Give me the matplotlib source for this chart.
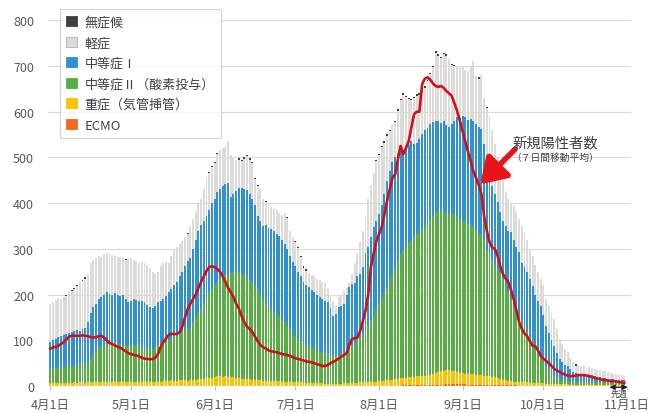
import numpy as np
import matplotlib
matplotlib.use('Agg')
import matplotlib.pyplot as plt
from matplotlib.patches import Patch

plt.rcParams['font.family'] = ['Noto Sans CJK JP', 'DejaVu Sans']

# ---- data (daily, 4/1 .. 10/31) ----
tick_days = [0, 30, 61, 91, 122, 153, 183, 214]
tick_labels = ['4月1日', '5月1日', '6月1日', '7月1日', '8月1日', '9月1日', '10月1日', '11月1日']
y_ticks = [0, 100, 200, 300, 400, 500, 600, 700, 800]

series_names = ['無症候', '軽症', '中等症Ⅰ', '中等症Ⅱ（酸素投与）', '重症（気管挿管）', 'ECMO']

# top of whole bar (all categories)
total_top = [
    180, 183, 188, 192, 190, 195, 200, 205, 210, 215,
    222, 228, 232, 238, 245, 268, 275, 280, 285, 283,
    288, 292, 290, 287, 284, 282, 283, 280, 278, 281,
    280, 276, 273, 270, 272, 268, 265, 258, 250, 245,
    250, 262, 270, 272, 268, 285, 300, 305, 310, 318,
    325, 335, 350, 365, 380, 398, 410, 430, 455, 468,
    482, 490, 510, 515, 520, 522, 536, 505, 500, 495,
    498, 494, 500, 505, 498, 490, 455, 440, 430, 410,
    405, 400, 392, 388, 385, 378, 375, 378, 370, 340,
    325, 318, 305, 285, 262, 255, 248, 242, 240, 235,
    232, 228, 225, 215, 200, 185, 175, 195, 200, 208,
    215, 225, 245, 270, 290, 315, 340, 370, 410, 440,
    465, 495, 508, 525, 535, 550, 560, 570, 580, 605,
    628, 640, 635, 630, 628, 632, 638, 640, 645, 655,
    670, 685, 700, 732, 725, 720, 728, 725, 715, 705,
    702, 700, 698, 697, 692, 688, 700, 710, 678, 675,
    680, 630, 610, 590, 560, 530, 500, 475, 450, 425,
    408, 400, 394, 380, 365, 350, 335, 320, 300, 285,
    265, 250, 235, 220, 190, 175, 160, 146, 125, 103,
    92, 82, 74, 62, 52, 48, 46, 44, 43, 42,
    42, 40, 38, 36, 35, 33, 32, 30, 28, 27,
    26, 25, 24, 22]

# top of 中等症Ⅰ (cumulative from bottom)
mod1_top = [
    96, 100, 104, 108, 110, 112, 114, 116, 118, 120,
    122, 120, 124, 128, 140, 160, 172, 180, 190, 195,
    200, 205, 202, 200, 203, 199, 198, 200, 190, 183,
    185, 190, 188, 186, 185, 183, 178, 172, 170, 175,
    183, 186, 190, 197, 205, 212, 220, 228, 240, 250,
    262, 273, 280, 300, 320, 340, 352, 360, 372, 385,
    400, 410, 425, 430, 438, 441, 445, 413, 420, 427,
    432, 434, 430, 428, 420, 408, 395, 372, 360, 350,
    352, 345, 343, 340, 332, 328, 320, 310, 300, 285,
    271, 262, 250, 240, 228, 220, 216, 210, 205, 200,
    195, 190, 185, 183, 170, 153, 157, 172, 175, 180,
    200, 216, 223, 225, 240, 245, 260, 290, 304, 325,
    347, 360, 376, 395, 420, 448, 470, 490, 500, 510,
    514, 516, 522, 528, 535, 530, 532, 540, 551, 560,
    565, 573, 578, 580, 579, 575, 579, 570, 566, 572,
    580, 588, 586, 590, 588, 582, 584, 579, 574, 566,
    562, 530, 496, 470, 437, 420, 402, 380, 360, 350,
    340, 337, 320, 305, 293, 270, 260, 249, 235, 219,
    200, 185, 175, 155, 131, 115, 100, 87, 72, 59,
    52, 47, 44, 38, 31, 29, 27, 26, 25, 25,
    24, 24, 22, 20, 19, 18, 17, 16, 15, 15,
    14, 14, 13, 13]

# top of 中等症Ⅱ (cumulative)
mod2_top = [
    37, 38, 40, 41, 42, 42, 43, 44, 44, 45,
    45, 46, 47, 48, 50, 60, 70, 78, 84, 88,
    90, 92, 94, 95, 96, 93, 90, 88, 87, 87,
    88, 89, 90, 88, 86, 84, 82, 81, 82, 85,
    90, 94, 96, 98, 100, 103, 107, 110, 114, 118,
    122, 125, 130, 140, 150, 160, 168, 180, 195, 205,
    212, 220, 228, 235, 240, 242, 246, 248, 250, 251,
    249, 247, 243, 238, 232, 227, 220, 210, 200, 190,
    180, 172, 168, 163, 158, 154, 146, 140, 132, 125,
    118, 109, 104, 98, 94, 90, 87, 84, 80, 78,
    76, 74, 72, 70, 68, 67, 68, 68, 70, 72,
    76, 82, 88, 95, 100, 106, 112, 122, 132, 145,
    157, 168, 180, 195, 205, 216, 230, 245, 258, 272,
    288, 298, 305, 312, 320, 326, 332, 338, 342, 347,
    355, 365, 372, 380, 383, 384, 383, 378, 376, 378,
    376, 370, 365, 361, 360, 354, 352, 347, 342, 335,
    330, 321, 300, 290, 278, 265, 255, 249, 235, 220,
    205, 190, 175, 162, 150, 140, 131, 120, 109, 100,
    87, 75, 65, 59, 45, 37, 30, 22, 18, 15,
    14, 13, 12, 12, 11, 11, 10, 10, 10, 10,
    9, 9, 9, 8, 8, 8, 8, 7, 7, 7,
    7, 6, 6, 6]

# top of 重症 (cumulative, incl. ECMO)
severe_top = [
    6, 6, 7, 6, 7, 7, 6, 7, 7, 8,
    7, 8, 8, 7, 8, 8, 9, 8, 9, 9,
    8, 9, 9, 10, 9, 9, 8, 9, 9, 10,
    9, 10, 10, 9, 9, 11, 10, 10, 9, 10,
    10, 9, 11, 12, 11, 13, 12, 12, 13, 14,
    13, 12, 13, 14, 14, 15, 15, 16, 17, 18,
    18, 20, 21, 22, 20, 21, 20, 19, 20, 18,
    17, 16, 16, 15, 15, 14, 14, 13, 13, 12,
    12, 12, 11, 12, 11, 11, 10, 10, 10, 9,
    9, 8, 8, 8, 7, 7, 7, 6, 6, 6,
    6, 6, 5, 5, 5, 5, 5, 5, 5, 6,
    6, 6, 6, 7, 7, 8, 8, 8, 9, 9,
    10, 10, 11, 11, 12, 13, 13, 14, 15, 16,
    17, 17, 18, 19, 20, 20, 21, 22, 22, 23,
    24, 25, 26, 28, 30, 32, 34, 36, 35, 34,
    32, 30, 29, 28, 27, 27, 26, 26, 25, 25,
    24, 23, 22, 21, 20, 19, 18, 16, 14, 13,
    12, 11, 10, 10, 9, 9, 8, 8, 7, 7,
    7, 6, 6, 6, 5, 5, 5, 5, 5, 4,
    4, 4, 4, 3, 3, 3, 3, 3, 3, 3,
    3, 3, 2, 2, 2, 2, 2, 2, 2, 2,
    2, 2, 2, 2]

ecmo = [
    0, 0, 0, 0, 0, 0, 0, 0, 0, 0,
    0, 0, 0, 0, 0, 0, 0, 0, 0, 0,
    0, 0, 0, 0, 0, 0, 0, 0, 0, 0,
    0, 0, 0, 0, 0, 0, 0, 0, 0, 0,
    0, 0, 0, 0, 0, 0, 0, 0, 0, 0,
    0, 0, 0, 0, 0, 0, 1, 1, 1, 1,
    1, 1, 1, 1, 1, 1, 1, 1, 1, 1,
    1, 1, 1, 1, 1, 1, 1, 1, 0, 0,
    0, 0, 0, 0, 0, 0, 0, 0, 0, 0,
    0, 0, 0, 0, 0, 0, 0, 0, 0, 0,
    0, 0, 0, 0, 0, 0, 0, 0, 0, 0,
    0, 0, 0, 0, 0, 0, 0, 0, 0, 0,
    0, 0, 0, 1, 1, 1, 1, 1, 1, 1,
    1, 2, 2, 2, 2, 2, 2, 2, 2, 2,
    2, 3, 3, 3, 3, 3, 3, 4, 4, 4,
    4, 4, 4, 4, 4, 3, 3, 3, 3, 3,
    3, 3, 3, 3, 3, 2, 2, 2, 2, 2,
    2, 2, 2, 2, 1, 1, 1, 1, 1, 1,
    1, 1, 1, 1, 1, 1, 1, 1, 1, 1,
    1, 1, 1, 1, 1, 1, 1, 1, 1, 1,
    0, 0, 0, 0, 0, 0, 0, 0, 0, 0,
    0, 0, 0, 0]

asymptomatic = [
    0, 0, 0, 0, 0, 0, 3, 0, 3, 3,
    3, 0, 3, 3, 0, 0, 0, 0, 0, 0,
    0, 0, 0, 0, 0, 0, 0, 0, 3, 0,
    0, 0, 0, 0, 0, 0, 0, 0, 0, 0,
    0, 0, 0, 0, 0, 0, 0, 0, 0, 0,
    0, 3, 0, 0, 0, 0, 0, 0, 0, 3,
    3, 3, 3, 0, 0, 0, 0, 0, 0, 0,
    3, 3, 3, 3, 3, 3, 3, 3, 0, 0,
    3, 0, 0, 0, 0, 0, 0, 0, 3, 0,
    0, 3, 3, 3, 3, 3, 0, 0, 0, 0,
    0, 0, 0, 0, 0, 0, 0, 0, 0, 0,
    0, 0, 0, 0, 0, 0, 0, 0, 0, 0,
    0, 3, 3, 3, 3, 3, 3, 0, 3, 3,
    3, 3, 3, 3, 3, 3, 3, 3, 3, 3,
    3, 3, 3, 3, 3, 3, 3, 3, 0, 3,
    3, 0, 0, 0, 0, 0, 0, 0, 0, 3,
    0, 0, 3, 0, 0, 0, 0, 0, 0, 0,
    0, 0, 0, 0, 0, 0, 0, 0, 0, 0,
    0, 0, 0, 0, 0, 0, 0, 0, 0, 0,
    0, 0, 0, 0, 0, 3, 0, 0, 0, 0,
    0, 0, 0, 0, 0, 0, 0, 0, 0, 0,
    0, 0, 0, 0]

# 新規陽性者数（7日間移動平均）
new_cases_7day = [
    82, 84, 86, 88, 92, 96, 102, 108, 110, 110,
    110, 110, 111, 110, 109, 107, 106, 107, 109, 110,
    106, 100, 94, 92, 89, 86, 84, 80, 76, 72,
    70, 68, 67, 65, 62, 60, 59, 59, 59, 62,
    70, 85, 96, 104, 112, 114, 114, 114, 118, 130,
    150, 168, 180, 190, 200, 215, 228, 240, 252, 260,
    262, 260, 256, 250, 240, 228, 215, 205, 195, 180,
    170, 153, 140, 130, 125, 118, 108, 98, 90, 85,
    82, 78, 76, 75, 74, 72, 70, 69, 68, 66,
    63, 61, 59, 58, 56, 54, 53, 52, 50, 48,
    46, 44, 44, 46, 50, 53, 56, 60, 64, 68,
    72, 90, 103, 105, 106, 120, 142, 165, 200, 260,
    290, 316, 332, 347, 375, 405, 430, 455, 463, 495,
    525, 507, 520, 535, 565, 594, 600, 600, 660, 672,
    675, 670, 662, 656, 654, 656, 652, 645, 640, 634,
    618, 601, 580, 558, 535, 513, 492, 470, 455, 440,
    420, 372, 340, 315, 303, 300, 285, 262, 245, 235,
    227, 210, 190, 165, 140, 125, 115, 109, 98, 88,
    87, 78, 66, 60, 55, 50, 44, 38, 34, 31,
    28, 25, 23, 22, 22, 23, 24, 24, 24, 23,
    22, 20, 18, 17, 15, 14, 13, 12, 11, 11,
    10, 9, 8, 7]

colors = ['#404040', '#dddbd7', '#3190cf', '#58ad45', '#ffc000', '#f26a1e']

# ---- derive stacked segments ----
T = np.array(total_top, float)
B = np.array(mod1_top, float)
G = np.array(mod2_top, float)
Y = np.array(severe_top, float)
E = np.array(ecmo, float)
A = np.array(asymptomatic, float)
n = len(T)
for arr in (B, G, Y, E, A, new_cases_7day):
    assert len(arr) == n, len(arr)
x = np.arange(n)

seg_ecmo = E
seg_severe = Y - E
seg_mod2 = G - Y
seg_mod1 = B - G
seg_mild = T - B - A
seg_asym = A

fig = plt.figure(figsize=(6.67, 4.14), dpi=100)
ax = fig.add_axes([0.072, 0.065, 0.874, 0.884])

w = 0.72
bottom = np.zeros(n)
stack = [(seg_ecmo, colors[5]), (seg_severe, colors[4]), (seg_mod2, colors[3]),
         (seg_mod1, colors[2]), (seg_mild, colors[1]), (seg_asym, colors[0])]
for vals, c in stack:
    ax.bar(x, vals, w, bottom=bottom, color=c, linewidth=0, zorder=2)
    bottom = bottom + vals

ax.plot(x, new_cases_7day, color='#d0101c', lw=1.9, zorder=4, solid_joinstyle='round')

ax.set_ylim(0, 800)
ax.set_xlim(-0.8, 215.5)
ax.set_yticks(y_ticks)
ax.set_xticks(tick_days)
ax.set_xticklabels(tick_labels)
ax.grid(axis='y', color='#d9d9d9', lw=0.8, zorder=0)
ax.set_axisbelow(True)
for s in ax.spines.values():
    s.set_visible(False)
ax.tick_params(axis='y', length=0, pad=10, labelsize=9, labelcolor='#595959')
ax.tick_params(axis='x', length=3, width=0.8, color='#bfbfbf', pad=5.5, labelsize=9, labelcolor='#595959')

handles = [Patch(facecolor=c, edgecolor=('#b0b0b0' if i == 1 else c), lw=0.6) for i, c in enumerate(colors)]
leg = ax.legend(handles, series_names, loc='upper left', bbox_to_anchor=(0.02, 1.03),
                fontsize=9.4, frameon=True, fancybox=False, edgecolor='#c8c8c8',
                handlelength=0.8, handleheight=0.8, handletextpad=0.6,
                labelspacing=0.58, borderpad=0.5, borderaxespad=0)
leg.get_frame().set_linewidth(0.8)
for t in leg.get_texts():
    t.set_color('#404040')

# annotation
ax.annotate('', xy=(159.6, 441), xytext=(172.5, 518),
            arrowprops=dict(arrowstyle='-|>,head_length=1.0,head_width=0.65', lw=4,
                            color='#e8141c', shrinkA=0, shrinkB=0, mutation_scale=15),
            zorder=6)
ax.text(171.5, 533, '新規陽性者数', fontsize=10.3, color='#404040', va='center', ha='left', zorder=6)
ax.text(171.0, 502, '（７日間移動平均）', fontsize=7, color='#404040', va='center', ha='left', zorder=6)

# 先週 marker
ax.annotate('', xy=(207.5, -2.5), xytext=(214.3, -2.5),
            arrowprops=dict(arrowstyle='<|-|>,head_length=0.3,head_width=0.15', lw=1.0,
                            color='#202020', shrinkA=0, shrinkB=0),
            annotation_clip=False, zorder=6)
ax.text(211.0, -15, '先週', fontsize=6, color='#404040', ha='center', va='center', clip_on=False)

fig.savefig('out.png', dpi=100)
